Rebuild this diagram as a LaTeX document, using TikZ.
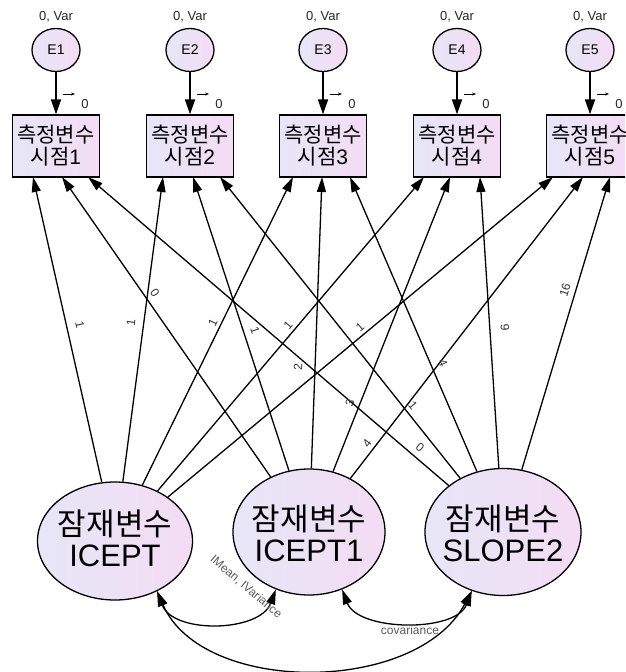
\documentclass[tikz,border=0pt]{standalone}
\usepackage{fontspec}
\setmainfont{Liberation Sans}
\newfontfamily\kr{Noto Sans CJK KR}
\usetikzlibrary{shapes.geometric,arrows.meta}
\definecolor{lavL}{HTML}{E6E6F7}
\definecolor{lavR}{HTML}{F4DCF4}
\definecolor{lblgray}{HTML}{5A5A5A}
\begin{document}
\begin{tikzpicture}[x=1pt,y=-1pt,
  errnode/.style={ellipse,draw,line width=1.3pt,left color=lavL,right color=lavR,minimum width=48pt,minimum height=43pt,inner sep=0pt,font=\fontsize{14}{14}\selectfont},
  varlbl/.style={font=\fontsize{13}{13}\selectfont,text=black!85,inner sep=0pt},
  obsbox/.style={rectangle,draw,line width=1.3pt,left color=lavL,right color=lavR,minimum width=87pt,minimum height=62pt,inner sep=0pt,align=center,font=\fontsize{21}{22}\selectfont},
  latnode/.style={ellipse,draw,line width=1.3pt,left color=lavL,right color=lavR,inner sep=0pt},
  lattext/.style={align=center,inner sep=0pt,font=\fontsize{31}{31}\selectfont},
  errarrow/.style={line width=1.8pt,-{Triangle[length=15pt,width=10pt]}},
  tinyarrow/.style={line width=0.7pt,-{Stealth[length=4pt,width=3pt]}},
  regline/.style={line width=1.3pt,-{Triangle[length=15pt,width=9pt]}},
  covline/.style={line width=1.3pt,{Triangle[length=15pt,width=9pt]}-{Triangle[length=15pt,width=9pt]}},
  wlbl/.style={font=\fontsize{12}{12}\selectfont,text=black!80,inner sep=0pt},
  clbl/.style={font=\fontsize{12}{12}\selectfont,text=lblgray,inner sep=0pt}
]
\useasboundingbox (0,0) rectangle (625,672);
\clip (0,0) rectangle (625,672);

% measured variables and errors
\foreach \i/\x in {1/56,2/190,3/323,4/457,5/590} {
  \node[errnode] (E\i) at (\x,50) {E\i};
  \node[varlbl] (v\i) at (\x,17) {0, Var};
  \node[obsbox] (O\i) at (\x,146) {{\kr 측정변수}\\{\kr 시점}\i};
  \draw[errarrow] (E\i) -- (O\i);
  \coordinate (ta\i) at (\x+7,94);
  \coordinate (tb\i) at (\x+19,94);
  \draw[tinyarrow] (ta\i) -- (tb\i);
  \node[varlbl] (z\i) at (\x+29,104) {0};
}

% latent variables
\node[latnode,minimum width=155pt,minimum height=118pt] (ICEPT) at (115,541) {};
\node[lattext] (ICEPTt) at (115,538) {{\kr 잠재변수}\\ICEPT};
\node[latnode,minimum width=152pt,minimum height=126pt] (ICEPT1) at (309,532) {};
\node[lattext] (ICEPT1t) at (309,533) {{\kr 잠재변수}\\ICEPT1};
\node[latnode,minimum width=156pt,minimum height=127pt] (SLOPE2) at (503,532) {};
\node[lattext] (SLOPE2t) at (503,533) {{\kr 잠재변수}\\SLOPE2};

% arrow end points on box bottoms
\coordinate (a1) at (33,177);  \coordinate (b1) at (62,177);  \coordinate (c1) at (88,177);
\coordinate (a2) at (163,177); \coordinate (b2) at (193,177); \coordinate (c2) at (220,177);
\coordinate (a3) at (293,177); \coordinate (b3) at (322,177); \coordinate (c3) at (350,177);
\coordinate (a4) at (424,177); \coordinate (b4) at (450,177); \coordinate (c4) at (480,177);
\coordinate (a5) at (553,177); \coordinate (b5) at (583,177); \coordinate (c5) at (610,177);

\foreach \k in {1,...,5} {
  \draw[regline] (ICEPT) -- (a\k);
  \draw[regline] (ICEPT1) -- (b\k);
  \draw[regline] (SLOPE2) -- (c\k);
}

% loading labels
\node[wlbl,rotate=-77] (lA1) at (80,325) {1};
\node[wlbl,rotate=82] (lA2) at (131,323) {1};
\node[wlbl,rotate=64] (lA3) at (213,323) {1};
\node[wlbl,rotate=50] (lA4) at (288,325) {1};
\node[wlbl,rotate=40] (lA5) at (360,327) {1};
\node[wlbl,rotate=-55] (lB1) at (155,293) {0};
\node[wlbl,rotate=-72] (lB2) at (255,330) {1};
\node[wlbl,rotate=88] (lB3) at (298,367) {2};
\node[wlbl,rotate=69] (lB4) at (350,403) {3};
\node[wlbl,rotate=53] (lB5) at (367,443) {4};
\node[wlbl,rotate=-40] (lC1) at (420,447) {0};
\node[wlbl,rotate=-51] (lC2) at (413,405) {1};
\node[wlbl,rotate=-67] (lC3) at (443,363) {4};
\node[wlbl,rotate=-86] (lC4) at (505,328) {9};
\node[wlbl,rotate=73] (lC5) at (565,290) {16};

% covariances
\draw[covline] (ICEPT.-50) .. controls +(16,43) and +(-16,43) .. (ICEPT1.-120);
\draw[covline] (ICEPT1.-60) .. controls +(16,42) and +(-16,42) .. (SLOPE2.-118);
\draw[covline] (ICEPT.-50) .. controls +(45,104) and +(-55,104) .. (SLOPE2.-118);
\node[clbl,rotate=-40.5] (lmv) at (246,587) {IMean, IVariance};
\node[clbl] (lcov) at (410,630) {covariance};
\end{tikzpicture}
\end{document}
